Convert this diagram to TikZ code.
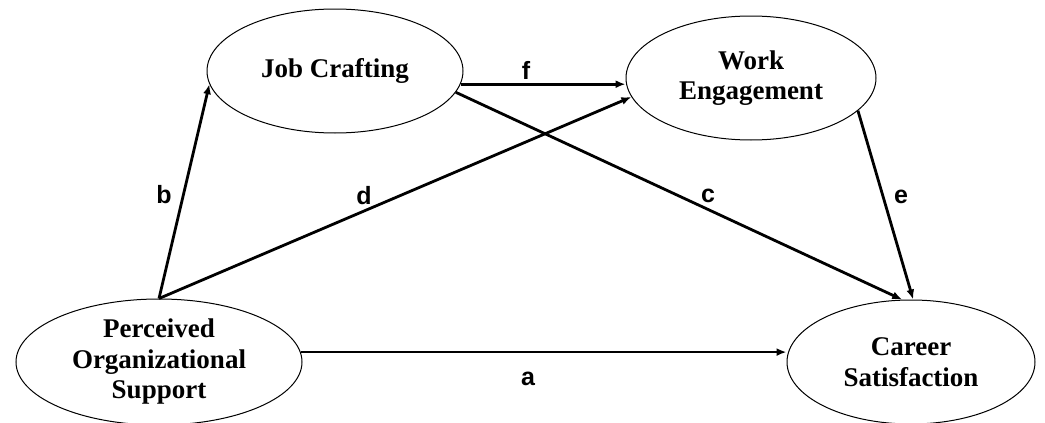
\documentclass[tikz,border=0pt]{standalone}
\usepackage{fontspec}
\setmainfont{Liberation Serif}
\newfontfamily\pathfont{Liberation Sans}
\usetikzlibrary{shapes.geometric,arrows.meta}

\def\RY{124}

\begin{document}
\begin{tikzpicture}[x=1pt,y=-1pt]
    \tikzset{
      latent/.style={draw,ellipse,line width=1pt,inner sep=0pt,align=center,
        minimum height=\RY,font=\fontsize{27}{30.5}\selectfont\bfseries},
      link/.style={-{Latex[length=10pt,width=8pt]},line width=2.8pt},
      coef/.style={font=\fontsize{25}{28}\selectfont\pathfont\bfseries}
    }
    \useasboundingbox (0,0) rectangle (1045,423);
    \node[latent,minimum width=256] (jc) at (335,71) {Job Crafting};
    \node[latent,minimum width=250] (we) at (751,78) {Work\\Engagement};
    \node[latent,minimum width=286,minimum height=126] (pos) at (159,362) {Perceived\\Organizational\\Support};
    \node[latent,minimum width=248] (cs) at (911,362) {Career\\Satisfaction};

    \draw[link] (pos.north) -- (jc.186);
    \draw[link] (pos.north) -- (we.189);
    \draw[link] (jc.354) -- (jc.354 -| we.west);
    \draw[link] (jc.350) -- (cs.98);
    \draw[link] (we.343) -- (cs.88);
    \draw[link] (pos.4) -- (pos.4 -| cs.west);

    \node[coef] (lb) at (164,195) {b};
    \node[coef] (ld) at (364,196) {d};
    \node[coef] (lf) at (526,70) {f};
    \node[coef] (lc) at (708,196) {c};
    \node[coef] (le) at (901,197) {e};
    \node[coef] (la) at (528,379) {a};
  \end{tikzpicture}
\end{document}
